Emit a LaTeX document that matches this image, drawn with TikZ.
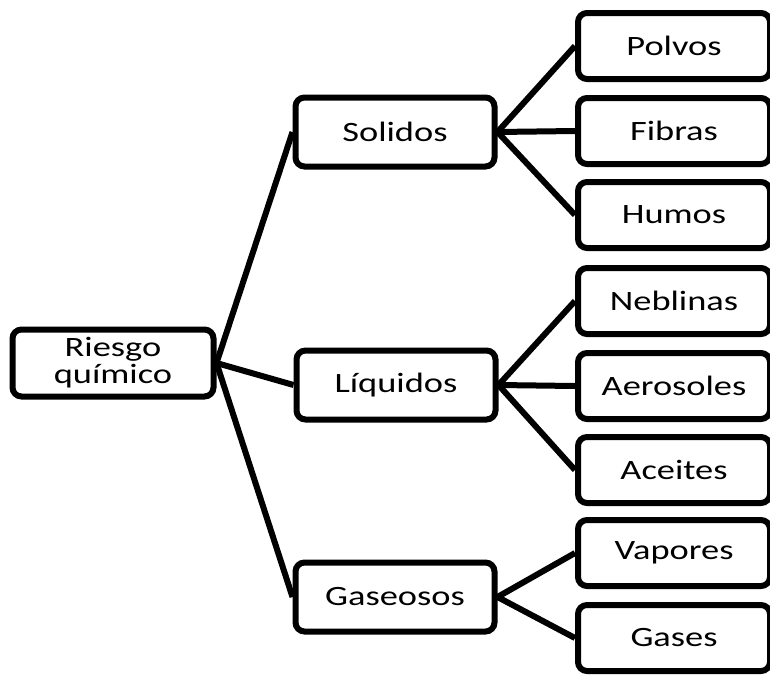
\documentclass[tikz,border=0pt]{standalone}
\usepackage{fontspec}
\setmainfont{Carlito}[FakeStretch=1.3]
\usepackage{tikz}
\usetikzlibrary{positioning}
\tikzstyle{rootbox} = [rectangle, rounded corners=9pt, minimum width=201pt, minimum height=67pt, text centered, align=center, draw=black, line width=6pt, font=\fontsize{28}{27}\selectfont]
\tikzstyle{groupbox} = [rectangle, rounded corners=9pt, minimum width=199pt, minimum height=69pt, text centered, draw=black, line width=6pt, font=\fontsize{28}{27}\selectfont]
\tikzstyle{leafbox} = [rectangle, rounded corners=9pt, minimum width=192pt, minimum height=66pt, text centered, draw=black, line width=6pt, font=\fontsize{28}{27}\selectfont]
\tikzstyle{link} = [line width=6pt]

\begin{document}
\begin{tikzpicture}[x=1pt, y=-1pt]
\useasboundingbox (0,0) rectangle (770,675);

% Root
\node (riesgo) [rootbox] at (113,363) {Riesgo\\químico};

% Groups
\node (solidos) [groupbox] at (395,132) {Solidos};
\node (liquidos) [groupbox] at (396,385) {Líquidos};
\node (gaseosos) [groupbox] at (395,597) {Gaseosos};

% Leaves
\node (polvos) [leafbox] at (674,46) {Polvos};
\node (fibras) [leafbox] at (674,131) {Fibras};
\node (humos) [leafbox] at (674,215) {Humos};
\node (neblinas) [leafbox] at (674,301) {Neblinas};
\node (aerosoles) [leafbox] at (674,386) {Aerosoles};
\node (aceites) [leafbox] at (674,470) {Aceites};
\node (vapores) [leafbox] at (674,553) {Vapores};
\node (gases) [leafbox] at (674,638) {Gases};

% Links
\draw [link] (riesgo.east) -- (solidos.west);
\draw [link] (riesgo.east) -- (liquidos.west);
\draw [link] (riesgo.east) -- (gaseosos.west);

\draw [link] (solidos.east) -- (polvos.west);
\draw [link] (solidos.east) -- (fibras.west);
\draw [link] (solidos.east) -- (humos.west);

\draw [link] (liquidos.east) -- (neblinas.west);
\draw [link] (liquidos.east) -- (aerosoles.west);
\draw [link] (liquidos.east) -- (aceites.west);

\draw [link] (gaseosos.east) -- (vapores.west);
\draw [link] (gaseosos.east) -- (gases.west);

\end{tikzpicture}
\end{document}
